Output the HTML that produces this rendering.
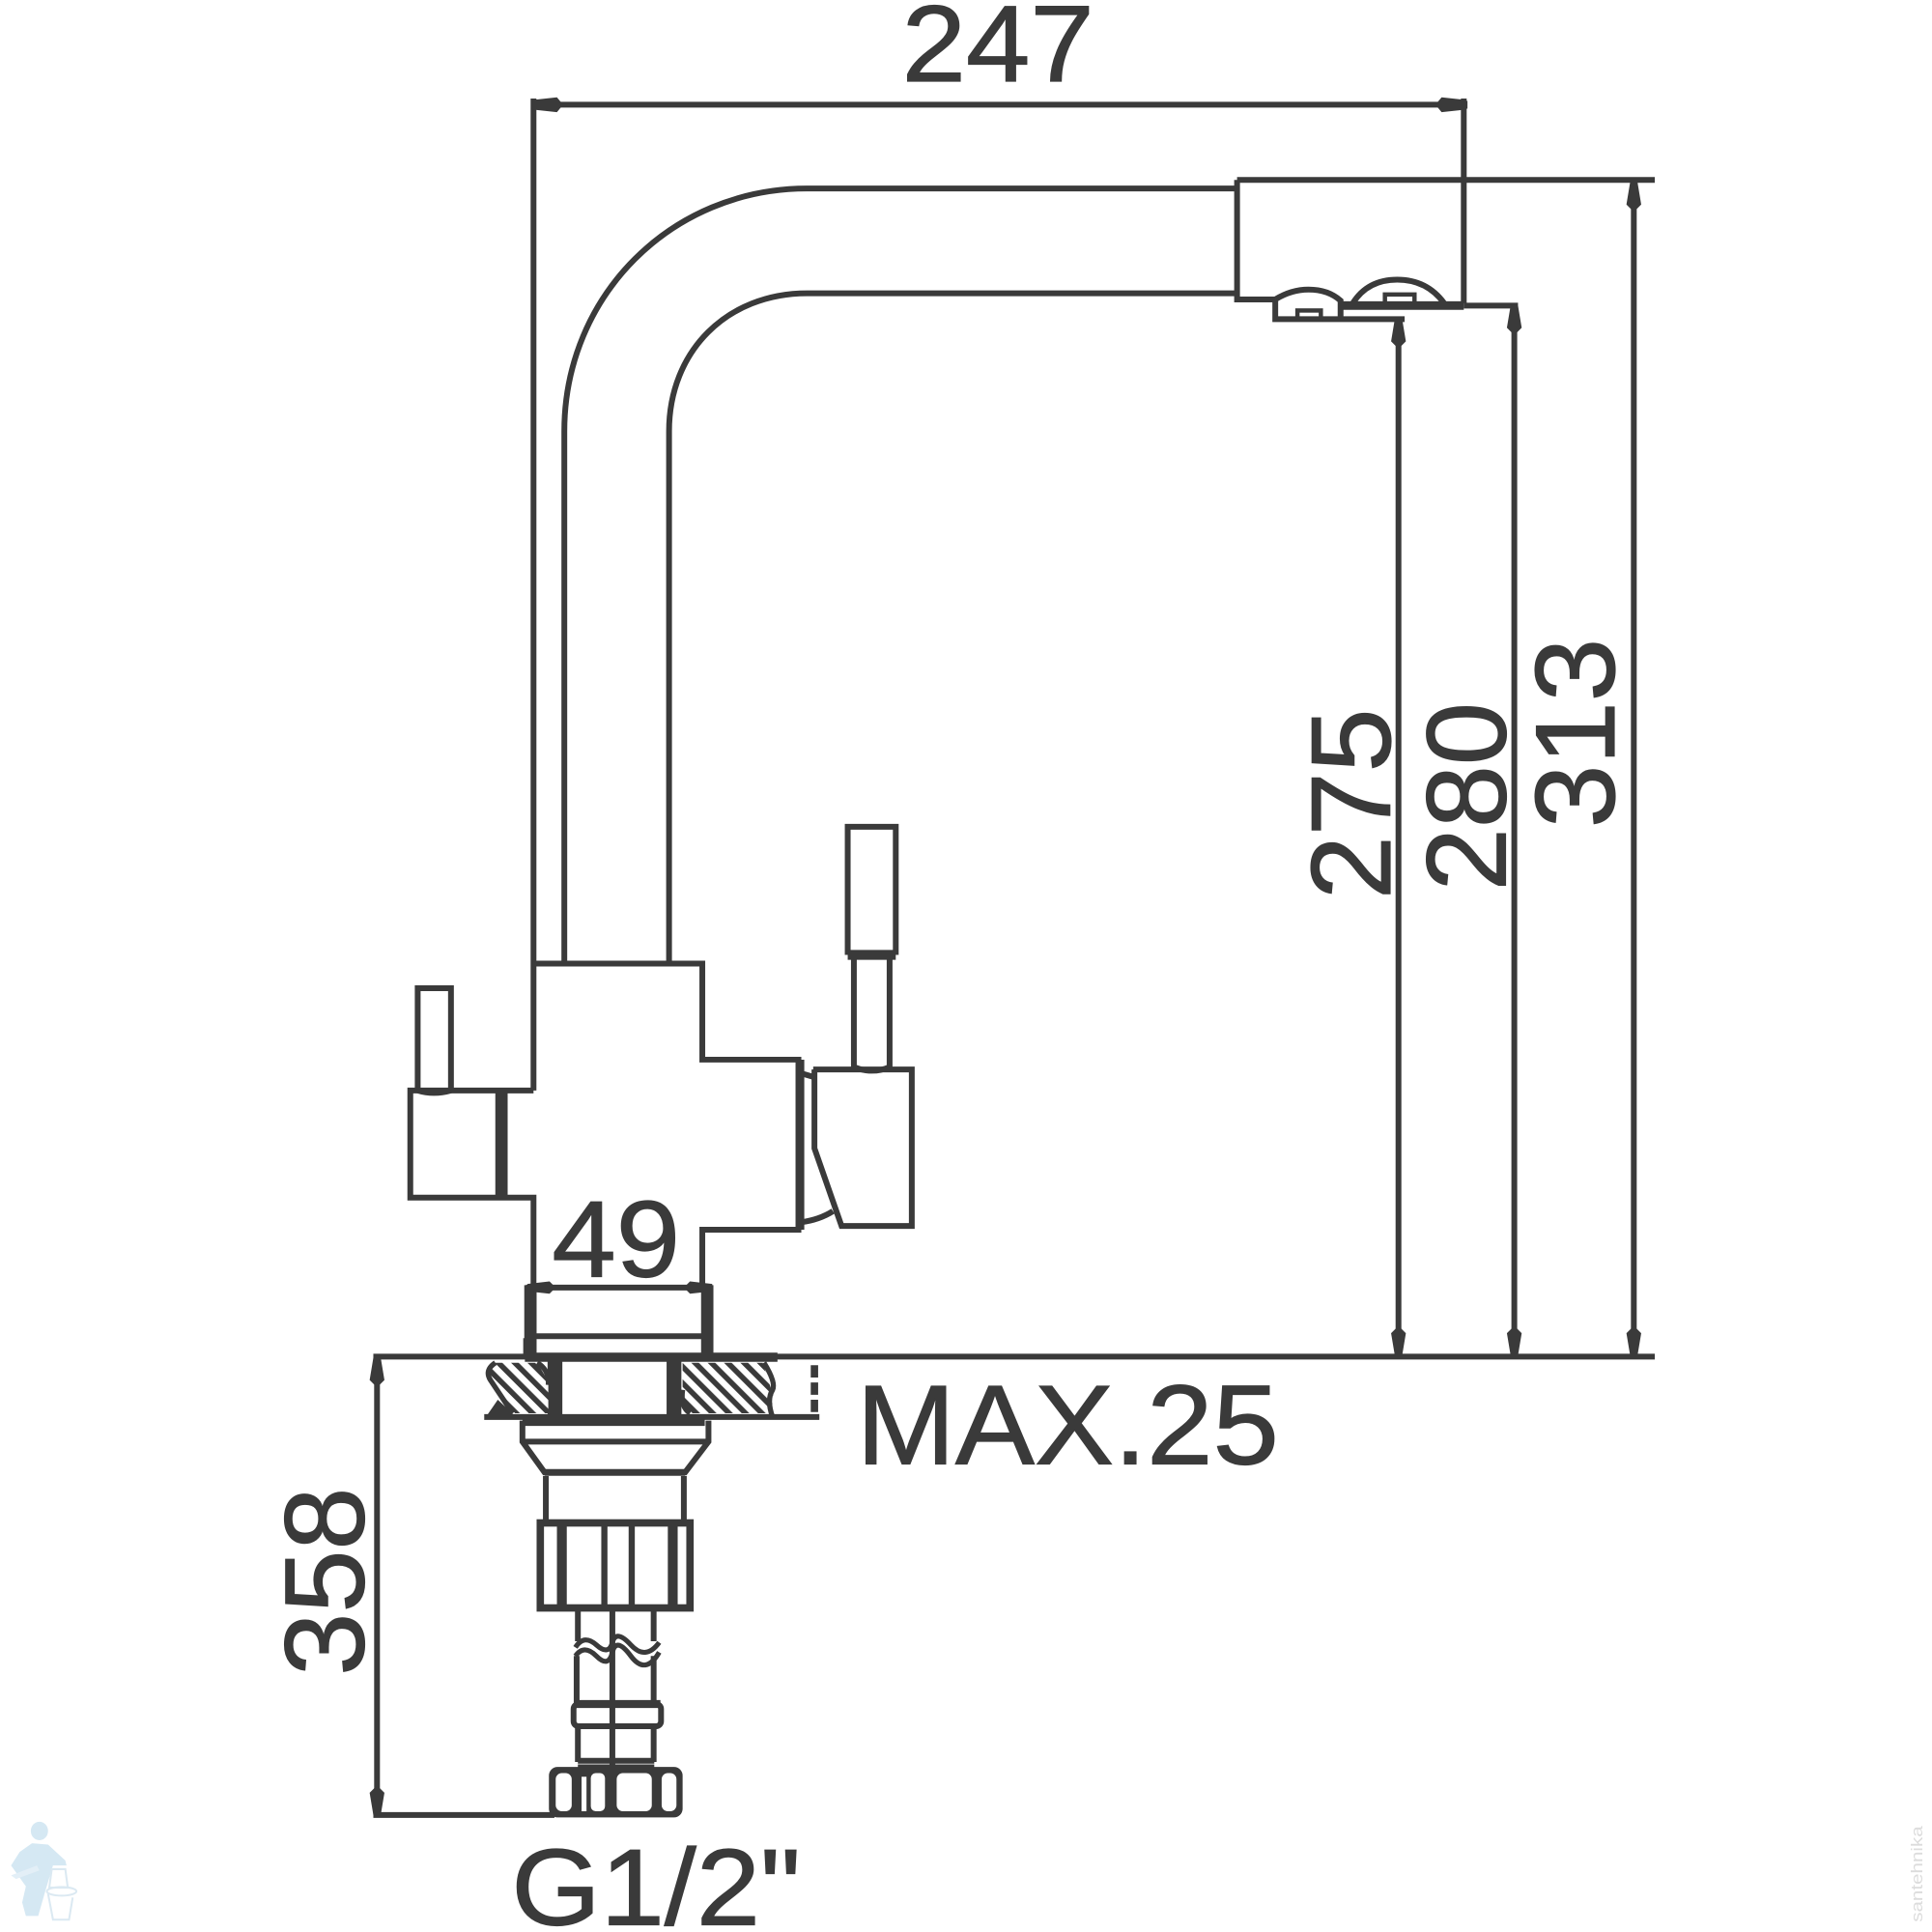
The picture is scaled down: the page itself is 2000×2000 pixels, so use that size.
<!DOCTYPE html>
<html><head><meta charset="utf-8"><style>
html,body{margin:0;padding:0;background:#fff;width:2000px;height:2000px;overflow:hidden}
svg{display:block}
text{font-family:"Liberation Sans",sans-serif;fill:#3a3a3a;stroke:#3a3a3a;stroke-width:.9}
</style></head><body>
<svg width="2000" height="2000" viewBox="0 0 1568 1568" xmlns="http://www.w3.org/2000/svg">
<defs>
<pattern id="h" width="9.4" height="9.4" patternUnits="userSpaceOnUse" patternTransform="rotate(-45)">
<rect width="9.4" height="9.4" fill="#fff"/><rect width="4.4" height="9.4" fill="#3a3a3a"/>
</pattern>
</defs>
<rect width="1568" height="1568" fill="#fff"/>
<g fill="none" stroke="#3a3a3a" stroke-width="4.7">
<!-- spout -->
<path d="M1004 153H655C545 153 458 240 458 350V782"/>
<path d="M1004 238H655C590 238 543 285 543 350V782"/>
<!-- head -->
<path d="M1004 146H1343M1004 146V243H1035M1188 80V246"/>
<path d="M1035 243V259H1140M1035 243Q1048 235 1062 235Q1078 235 1088 244V259"/>
<path d="M1090 248H1188" stroke-width="7"/>
<path d="M1188 248H1232"/>
<path d="M1098 246Q1110 227 1134 227Q1158 227 1172 246"/>
<rect x="1053" y="252" width="19" height="7" stroke-width="3.5"/>
<rect x="1124" y="239" width="24" height="8" stroke-width="3.5"/>
<!-- top dimension -->
<path d="M433 85H1189M433 80V782"/>
<!-- dim verticals -->
<path d="M1135 259V1100M1229 248V1100M1326 148V1100"/>
<path d="M303 1101H1343"/>
<path d="M306 1102V1473M303 1473H450"/>
<!-- body -->
<path d="M433 782H570V860H648V998H570V1045M433 885V782M433 885H333V972H433V1045"/>
<path d="M407 887V972" stroke-width="10"/>
<path d="M339 885V802H366V885"/>
<path d="M339 885Q352 889 366 885"/>
<!-- right handle -->
<path d="M650 860V998" stroke-width="5.5"/>
<path d="M660 868H740V995H683L661 932V868"/>
<path d="M650 871L660 874M650 992Q665 990 676 983"/>
<path d="M688 775V671H727V775"/>
<path d="M688 775H727" stroke-width="8"/>
<path d="M693 778V866M722 778V866M693 866Q708 872 722 866"/>
<!-- collar -->
<path d="M427 1045H578"/>
<path d="M430.5 1043V1098M574 1043V1098" stroke-width="10"/>
<path d="M430 1084.5H574"/>
<path d="M427 1086V1100M576 1086V1100"/>
<!-- below counter -->
<path d="M393 1150H665"/>
<path d="M661 1108V1150" stroke-width="6" stroke-dasharray="10 4"/>
<path d="M450.4 1102V1150M547 1102V1150" stroke-width="12"/>
<path d="M426 1101.5H631" stroke-width="7.5"/>
<!-- fitting -->
<path d="M424 1153V1170L442 1195H556L575 1170V1153" />
<path d="M424 1154.5H572" stroke-width="5.5"/>
<path d="M424 1170H575"/>
<path d="M442 1195H556" stroke-width="5.5"/>
<path d="M443 1198V1236M555 1198V1236"/>
<rect x="438.5" y="1236" width="121.5" height="69" stroke-width="6"/>
<path d="M490.5 1236V1305M512.7 1236V1305" stroke-width="5"/>
<path d="M456 1236V1305M546 1236V1305" stroke-width="8"/>
<!-- pipes -->
<path d="M469 1305V1332M497 1305V1434M530.5 1305V1332M468 1344V1384M530.5 1344V1384"/>
<path d="M467 1337Q474 1326 484 1335T497 1333T512 1335T535 1333M467 1344Q474 1334 484 1344T497 1341T512 1344T535 1341" stroke-width="4"/>
<rect x="465.5" y="1383" width="71" height="18" rx="4"/>
<path d="M466 1383H536" stroke-width="6.5"/>
<path d="M469 1402V1430M530.5 1402V1430M469 1429H531"/>
<path d="M469 1434H531" stroke-width="4"/>
</g>
<rect x="445.5" y="1434" width="108.5" height="41" rx="7" fill="#3a3a3a"/>
<g fill="#fff">
<rect x="451" y="1439" width="13" height="31" rx="5"/>
<rect x="472" y="1442" width="4" height="28"/>
<rect x="479.5" y="1439" width="11.5" height="31" rx="4"/>
<rect x="500.5" y="1439" width="28.5" height="31" rx="5"/>
<rect x="537" y="1439" width="12" height="31" rx="5"/>
</g>
<g fill="url(#h)" stroke="#3a3a3a" stroke-width="2.5">
<path d="M402 1106H436L445 1121V1147H418L396 1117Z" stroke="none"/>
<path d="M554 1106H619L628 1134L625 1147H559L554 1137Z" stroke="none"/>
</g>
<g fill="none" stroke="#3a3a3a" stroke-width="4.2">
<path d="M402 1106Q393 1112 398 1120L416 1147M436 1106Q446 1112 445 1124"/>
<path d="M620 1106Q630 1122 627 1128Q622 1136 627 1150"/>
<path d="M554 1128Q552 1142 560 1147"/>
</g>
<path d="M393 1152L404 1136L421 1152Z" fill="#3a3a3a"/>
<g fill="#3a3a3a">
<!-- arrows -->
<path d="M431 82L433 81L452 79L457 85L452 91L433 89L431 88Z"/>
<path d="M1191 82L1189 81L1170 79L1165 85L1170 91L1189 89L1191 88Z"/>
<path d="M1132 259H1138L1141 277L1135 283L1129 277Z"/>
<path d="M1132 1100H1138L1141 1082L1135 1076L1129 1082Z"/>
<path d="M1226 248H1232L1235 266L1229 272L1223 266Z"/>
<path d="M1226 1100H1232L1235 1082L1229 1076L1223 1082Z"/>
<path d="M1323 148H1329L1332 166L1326 172L1320 166Z"/>
<path d="M1323 1100H1329L1332 1082L1326 1076L1320 1082Z"/>
<path d="M303 1102H309L312 1120L306 1126L300 1120Z"/>
<path d="M303 1473H309L312 1455L306 1449L300 1455Z"/>
<path d="M428 1042L446 1040L451 1045L446 1050L428 1048Z"/>
<path d="M578 1042L560 1040L555 1045L560 1050L578 1048Z"/>
</g>
<!-- labels -->
<text x="810" y="66" font-size="88" text-anchor="middle" textLength="156" lengthAdjust="spacingAndGlyphs">247</text>
<text x="500" y="1036" font-size="88" text-anchor="middle" textLength="104" lengthAdjust="spacingAndGlyphs">49</text>
<text x="695" y="1188" font-size="92" textLength="343" lengthAdjust="spacingAndGlyphs">MAX.25</text>
<text x="415" y="1562" font-size="88" textLength="235" lengthAdjust="spacingAndGlyphs">G1/2"</text>
<text transform="translate(1128 730) rotate(-90)" font-size="92" textLength="155" lengthAdjust="spacingAndGlyphs">275</text>
<text transform="translate(1222 723) rotate(-90)" font-size="92" textLength="153" lengthAdjust="spacingAndGlyphs">280</text>
<text transform="translate(1310 672) rotate(-90)" font-size="92" textLength="154" lengthAdjust="spacingAndGlyphs">313</text>
<text transform="translate(295 1360) rotate(-90)" font-size="92" textLength="153" lengthAdjust="spacingAndGlyphs">358</text>
<!-- watermark figure -->
<g fill="#d5e8f3" stroke="none">
<ellipse cx="32" cy="1486" rx="7" ry="7.5"/>
<path d="M26 1496L39 1497L53 1510L54 1514L43 1514L37 1534L31 1555L21 1555L18 1544L21 1531L9 1514L16 1503Z"/>
<path d="M9 1522L30 1514L32 1518L13 1525Z" fill="#e3eff7"/>
</g>
<g fill="none" stroke="#dbe9f2" stroke-width="1.6">
<path d="M42 1517H53L55 1532H40Z"/>
<ellipse cx="50" cy="1535" rx="12" ry="3.5"/>
<path d="M39 1537Q41 1547 43 1558H56L59 1540"/>
</g>
<text transform="translate(1560 1560) rotate(-90)" font-size="13" style="fill:#dcdcdc;stroke:none" textLength="78" lengthAdjust="spacingAndGlyphs">santehnika</text>
</svg>
</body></html>
